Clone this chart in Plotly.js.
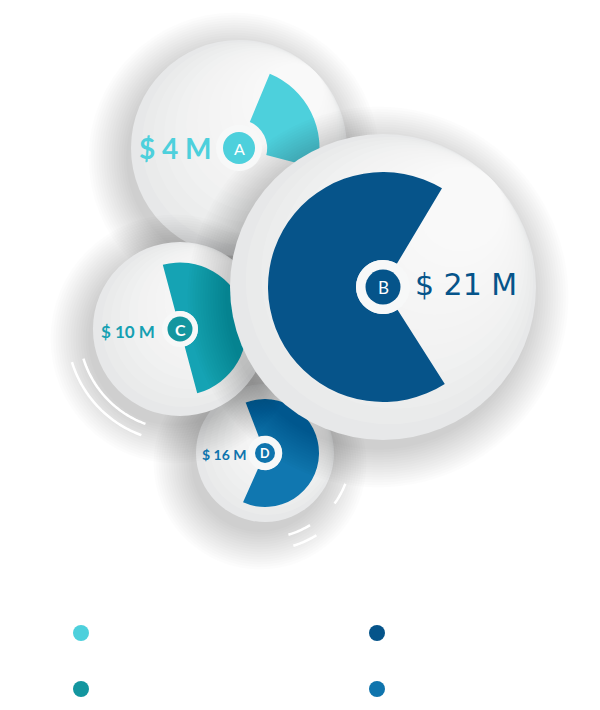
<!DOCTYPE html>
<html><head><meta charset="utf-8">
<script src="https://cdn.plot.ly/plotly-3.0.1.min.js"></script>
<style>html,body{margin:0;padding:0;background:#fff}#chart{width:600px;height:710px}</style>
</head><body><div id="chart"></div>
<script>
// ---- data ----
const names   = ['A', 'B', 'C', 'D'];
const amounts = ['$ 4 M', '$ 21 M', '$ 10 M', '$ 16 M'];
const shares  = [22.8, 67.6, 50, 62.5];          // % of each ring that is filled
const colors  = ['#4dd0dc', '#05548a', '#13969f', '#0f74ad'];

// ---- layout of the bubbles (pixels) ----
const W = 600, H = 710;
const geo = {
  A: {cx: 239, cy: 148, r: 108, sr: 80.5, hole: 0.35, rot: 22.5, sc: '#4dd0dc', badge: 16, halo: 23,
      lx: 214, ly: 148, la: 'right', lf: 28, lfam: 'Lato', lw: 700, bf: 16, bw: 400, tc: '#4dd0dc'},
  B: {cx: 383, cy: 287, r: 153, sr: 115, hole: 0.235, rot: 147.5, sc: '#06548a', badge: 17.5, halo: 27,
      lx: 413, ly: 284, la: 'left', lf: 30, lfam: 'DejaVu Sans', lw: 400, bf: 17, bw: 400, tc: '#05548a'},
  C: {cx: 180, cy: 329, r: 87, sr: 66.5, hole: 0.27, rot: -15, sc: '#15a3b4', badge: 12.5, halo: 18,
      lx: 157, ly: 331, la: 'right', lf: 17, lfam: 'Lato', lw: 700, bf: 16, bw: 700, tc: '#15a0b2'},
  D: {cx: 265, cy: 453, r: 69, sr: 54, hole: 0.32, rot: -21, sc: '#1077b0', badge: 10, halo: 17,
      lx: 248, ly: 454, la: 'right', lf: 14, lfam: 'Lato', lw: 700, bf: 12.5, bw: 700, tc: '#0f74ad'}
};
const drawOrder = ['D', 'A', 'C', 'B'];

function pieAt(cx, cy, r, values, cols, extra) {
  return Object.assign({
    type: 'pie', values: values, marker: {colors: cols, line: {width: 0}},
    sort: false, textinfo: 'none', hoverinfo: 'skip', showlegend: false,
    direction: 'clockwise',
    domain: {x: [(cx - r) / W, (cx + r) / W], y: [1 - (cy + r) / H, 1 - (cy - r) / H]}
  }, extra || {});
}

const traces = [];
drawOrder.forEach(function (key) {
  const i = names.indexOf(key), g = geo[key];
  // soft shadow
  for (let k = 0; k < 16; k++) {
    traces.push(pieAt(g.cx - 5, g.cy + 10, g.r + k * 2.5, [1], ['rgba(0,0,0,0.012)']));
  }
  // disc
  traces.push(pieAt(g.cx, g.cy, g.r, [1], ['#e7e8e9']));
  // light gradient towards top-right
  for (let k = 1; k <= 12; k++) {
    const rk = g.r * (1 - 0.06 * k), d = (g.r - rk) * 0.707;
    traces.push(pieAt(g.cx + d, g.cy - d, rk, [1], ['rgba(255,255,255,0.13)']));
  }
  // value sector
  traces.push(pieAt(g.cx, g.cy, g.sr, [shares[i], 100 - shares[i]], [g.sc, 'rgba(0,0,0,0)'],
    {hole: g.hole, rotation: g.rot}));
});

// legend entries
const legendIds = ['legend', 'legend2', 'legend3', 'legend4'];
names.forEach(function (n, i) {
  traces.push({type: 'scatter', mode: 'markers', x: [null], y: [null], name: '',
    marker: {color: colors[i], size: 18}, showlegend: true, legend: legendIds[i], hoverinfo: 'skip'});
});

const shapes = [], annotations = [];
names.forEach(function (n, i) {
  const g = geo[n];
  shapes.push({type: 'circle', layer: 'above', xref: 'x', yref: 'y',
    x0: g.cx - g.halo, x1: g.cx + g.halo, y0: g.cy - g.halo, y1: g.cy + g.halo,
    fillcolor: '#f7f8f8', line: {width: 0}});
  shapes.push({type: 'circle', layer: 'above', xref: 'x', yref: 'y',
    x0: g.cx - g.badge, x1: g.cx + g.badge, y0: g.cy - g.badge, y1: g.cy + g.badge,
    fillcolor: colors[i], line: {width: 0}});
  annotations.push({xref: 'x', yref: 'y', x: g.cx, y: g.cy + 0.5, text: n, showarrow: false,
    xanchor: 'center', yanchor: 'middle',
    font: {family: 'Lato', size: g.bf, color: '#ffffff', weight: g.bw}});
  annotations.push({xref: 'x', yref: 'y', x: g.lx, y: g.ly, text: amounts[i], showarrow: false,
    xanchor: g.la, yanchor: 'middle',
    font: {family: g.lfam, size: g.lf, color: g.tc, weight: g.lw}});
});

// decorative white arcs
function arcPath(cx, cy, r, a0, a1) {
  let p = '';
  for (let a = a0, j = 0; a <= a1 + 0.001; a += 1, j++) {
    const t = a * Math.PI / 180;
    p += (j ? ' L' : 'M') + (cx + r * Math.cos(t)).toFixed(2) + ',' + (cy - r * Math.sin(t)).toFixed(2);
  }
  return p;
}
const arcs = [
  [geo.C.cx, geo.C.cy, 101, 197, 250],
  [geo.C.cx, geo.C.cy, 113, 197, 250],
  [geo.D.cx, geo.D.cy, 86, -36, -21],
  [geo.D.cx, geo.D.cy, 85, -74, -58],
  [geo.D.cx, geo.D.cy, 97, -73, -58]
];
arcs.forEach(function (a) {
  shapes.push({type: 'path', layer: 'above', xref: 'x', yref: 'y', path: arcPath(a[0], a[1], a[2], a[3], a[4]),
    line: {color: '#ffffff', width: 2.5}});
});

const legendPos = [[82, 633], [378, 633], [82, 689], [378, 689]];
const layout = {
  width: W, height: H, margin: {l: 0, r: 0, t: 0, b: 0},
  paper_bgcolor: '#ffffff', plot_bgcolor: 'rgba(0,0,0,0)',
  xaxis: {range: [0, W], visible: false, fixedrange: true},
  yaxis: {range: [H, 0], visible: false, fixedrange: true},
  shapes: shapes, annotations: annotations, showlegend: true
};
legendIds.forEach(function (id, i) {
  layout[id] = {x: (legendPos[i][0] - 21) / W, xanchor: 'left', y: 1 - legendPos[i][1] / H, yanchor: 'middle',
    bgcolor: 'rgba(0,0,0,0)', borderwidth: 0, font: {size: 12}, itemclick: false};
});

Plotly.newPlot('chart', traces, layout, {displayModeBar: false, staticPlot: true});
</script>
</body></html>
